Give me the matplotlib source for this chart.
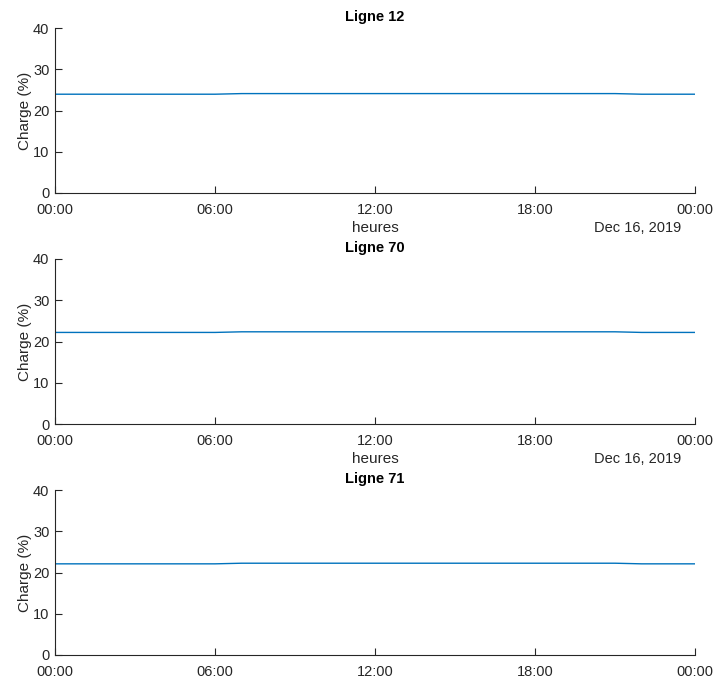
import matplotlib
matplotlib.use("Agg")
import matplotlib.pyplot as plt
import matplotlib.dates as mdates
import pandas as pd

plt.rcParams['font.family'] = ['Liberation Sans', 'DejaVu Sans']

hours = pd.date_range("2019-12-16 00:00", "2019-12-17 00:00", freq="h")
titles = ["Ligne 12", "Ligne 70", "Ligne 71"]
ligne12 = [23.95]*7 + [24.1]*15 + [23.95]*3
ligne70 = [22.2]*7 + [22.35]*15 + [22.2]*3
ligne71 = [22.1]*7 + [22.25]*15 + [22.1]*3
series = [ligne12, ligne70, ligne71]
yticks = [0, 10, 20, 30, 40]
date_label = "Dec 16, 2019"

fig = plt.figure(figsize=(7.15, 6.8), dpi=100)
axc = '#262626'
bottoms = [1 - 193/680, 1 - 424/680, 1 - 655/680]
for i, (t, vals) in enumerate(zip(titles, series)):
    ax = fig.add_axes([55/715, bottoms[i], 640/715, 165/680])
    ax.plot(hours, vals, color='#0072BD', lw=1.0)
    ax.set_xlim(hours[0], hours[-1])
    ax.set_ylim(0, 40)
    ax.set_yticks(yticks)
    ax.xaxis.set_major_locator(mdates.HourLocator(byhour=[0, 6, 12, 18]))
    ax.xaxis.set_major_formatter(mdates.DateFormatter('%H:%M'))
    for s in ['top', 'right']:
        ax.spines[s].set_visible(False)
    for s in ['left', 'bottom']:
        ax.spines[s].set_color(axc)
        ax.spines[s].set_linewidth(0.8)
    ax.tick_params(direction='in', length=5, width=0.8, colors=axc,
                   labelsize=10.5)
    ax.tick_params(axis='x', pad=7.5)
    ax.tick_params(axis='y', pad=4)
    ax.set_title(t, fontsize=10.5, fontweight='bold', pad=5, color='black')
    ax.set_ylabel("Charge (%)", fontsize=11, color=axc, labelpad=1)
    if i < 2:
        ax.set_xlabel("heures", fontsize=11, color=axc)
        ax.xaxis.set_label_coords(0.5, -0.172)
        ax.text(0.978, -0.172, date_label, transform=ax.transAxes, ha='right',
                va='top', fontsize=10.5, color=axc)

fig.savefig("out.png", dpi=100)
